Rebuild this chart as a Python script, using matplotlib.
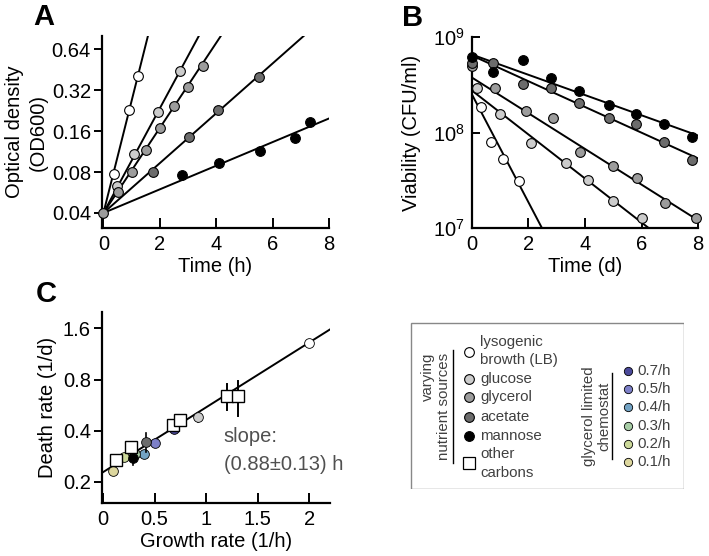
import numpy as np
import matplotlib
matplotlib.use("Agg")
import matplotlib.pyplot as plt
from matplotlib.patches import Rectangle

plt.rcParams['font.family'] = ['Liberation Sans', 'DejaVu Sans']
plt.rcParams['mathtext.fontset'] = 'custom'
plt.rcParams['mathtext.rm'] = 'Liberation Sans'

# ---- colours per condition
cond_names = ["LB", "glucose", "glycerol", "acetate", "mannose"]
cond_colors = ["white", "#cccccc", "#9c9c9c", "#6c6c6c", "black"]

# ---- Panel A: growth curves (OD600 vs time, h)
a_t = [
    [0.37, 0.9, 1.22],
    [0.49, 1.09, 1.94, 2.71],
    [0.53, 1.02, 1.51, 2.0, 2.5, 2.99, 3.52],
    [1.76, 3.03, 4.05, 5.53],
    [2.8, 4.1, 5.55, 6.8, 7.33],
]
a_od = [
    [0.077, 0.23, 0.41],
    [0.063, 0.108, 0.22, 0.44],
    [0.057, 0.08, 0.116, 0.168, 0.245, 0.34, 0.48],
    [0.08, 0.145, 0.23, 0.40],
    [0.076, 0.093, 0.114, 0.142, 0.186],
]
a_od0 = 0.04
a_rate = [1.9, 0.886, 0.72, 0.422, 0.20]   # fitted growth rates (1/h)

# ---- Panel B: viability (CFU/ml vs time, d)
b_t = [
    [0.32, 0.67, 1.1, 1.67],
    [0.17, 1.0, 2.1, 3.33, 4.1, 5.0, 6.03],
    [0.0, 0.8, 1.9, 2.88, 3.83, 5.0, 5.85, 6.84, 7.94],
    [0.0, 0.76, 1.8, 2.8, 3.8, 4.86, 5.82, 6.78, 7.8],
    [0.0, 0.76, 1.8, 2.8, 3.8, 4.86, 5.82, 6.78, 7.8],
]
b_cfu = [
    [1.87e8, 8.05e7, 5.3e7, 3.07e7],
    [2.96e8, 1.58e8, 7.85e7, 4.85e7, 3.2e7, 1.94e7, 1.26e7],
    [5.0e8, 2.96e8, 1.7e8, 1.43e8, 6.3e7, 4.5e7, 3.37e7, 1.85e7, 1.26e7],
    [5.4e8, 5.3e8, 3.26e8, 2.96e8, 2.06e8, 1.43e8, 1.24e8, 8.05e7, 5.2e7],
    [6.25e8, 4.35e8, 5.7e8, 3.76e8, 2.75e8, 1.96e8, 1.58e8, 1.24e8, 8.9e7],
]
b_cfu0 = [2.5e8, 2.75e8, 3.76e8, 6.4e8, 6.55e8]
b_rate = [1.3, 0.53, 0.43, 0.31, 0.244]    # fitted death rates (1/d)

# ---- Panel C: death rate vs growth rate
c_circ_g = [2.0, 0.92, 0.69, 0.42, 0.29]
c_circ_d = [1.31, 0.48, 0.43, 0.345, 0.276]
c_circ_err = [0.0, 0.03, 0.0, 0.045, 0.025]
c_sq_g = [0.13, 0.27, 0.68, 0.75, 1.2, 1.31]
c_sq_d = [0.268, 0.32, 0.43, 0.46, 0.64, 0.64]
c_sq_err = [0.0, 0.0, 0.0, 0.0, 0.11, 0.15]
chemo_labels = ["0.7/h", "0.5/h", "0.4/h", "0.3/h", "0.2/h", "0.1/h"]
chemo_colors = ["#4b4a9a", "#7d80c8", "#73a3c4", "#a8cda6", "#ccd99a", "#ddd79e"]
chemo_g = [0.69, 0.5, 0.40, 0.31, 0.2, 0.1]
chemo_d = [0.41, 0.34, 0.29, 0.29, 0.28, 0.23]
c_fit_d0 = 0.228
c_fit_slope = 0.88

FS = 14.5
fig = plt.figure(figsize=(7.09, 5.56), dpi=100)


def style(ax, yticks_out=True):
    ax.spines['top'].set_visible(False)
    ax.spines['right'].set_visible(False)
    for s in ['left', 'bottom']:
        ax.spines[s].set_linewidth(1.6)
    ax.tick_params(axis='x', direction='in', length=7, width=1.4, pad=5, labelsize=FS)
    ax.tick_params(axis='y', direction='out' if yticks_out else 'in', length=6,
                   width=1.4, pad=2, labelsize=FS)
    ax.minorticks_off()


# Panel A
axA = fig.add_axes([0.1439, 0.5899, 0.3202, 0.3453])
tt = np.linspace(0, 8, 200)
for i in range(5):
    axA.plot(tt, a_od0 * np.exp(np.array(a_rate[i]) * tt), color='black', lw=1.4, zorder=2)
for i in range(5):
    axA.plot(a_t[i], a_od[i], 'o', ms=7, mfc=cond_colors[i], mec='black', mew=0.8, zorder=3)
axA.plot([0], [a_od0], 'o', ms=7, mfc='#9c9c9c', mec='black', mew=0.8, zorder=4, clip_on=False)
axA.set_yscale('log')
axA.set_ylim(0.031, 0.8)
axA.set_xlim(-0.05, 8)
axA.set_yticks([0.04, 0.08, 0.16, 0.32, 0.64])
axA.set_yticklabels(['0.04', '0.08', '0.16', '0.32', '0.64'])
axA.set_xticks([0, 2, 4, 6, 8])
style(axA)
axA.set_xlabel('Time (h)', fontsize=FS, labelpad=2)
axA.set_ylabel('Optical density\n(OD600)', fontsize=FS, labelpad=3, linespacing=1.3)

# Panel B
axB = fig.add_axes([0.6657, 0.5899, 0.3188, 0.3435])
for i in range(5):
    axB.plot(tt, b_cfu0[i] * np.exp(-np.array(b_rate[i]) * tt), color='black', lw=1.4, zorder=2)
for i in range(5):
    axB.plot(b_t[i], b_cfu[i], 'o', ms=7, mfc=cond_colors[i], mec='black', mew=0.8,
             zorder=3, clip_on=False)
axB.set_yscale('log')
axB.set_ylim(1e7, 1e9)
axB.set_xlim(0, 8)
axB.set_yticks([1e7, 1e8, 1e9])
axB.set_yticklabels(['$10^7$', '$10^8$', '$10^9$'])
axB.set_xticks([0, 2, 4, 6, 8])
style(axB, yticks_out=False)
axB.tick_params(axis='y', pad=5)
axB.set_xlabel('Time (d)', fontsize=FS, labelpad=2)
axB.set_ylabel('Viability (CFU/ml)', fontsize=FS, labelpad=9)

# Panel C
axC = fig.add_axes([0.1439, 0.0953, 0.3216, 0.3435])
gg = np.linspace(0, 2.2, 50)
axC.plot(gg, c_fit_d0 * np.exp(c_fit_slope * gg), color='black', lw=1.4, zorder=2)
for i in range(6):
    axC.plot(chemo_g[i], chemo_d[i], 'o', ms=7, mfc=chemo_colors[i], mec='black',
             mew=0.6, zorder=3)
for i in range(5):
    if c_circ_err[i] > 0:
        axC.plot([c_circ_g[i]] * 2, [c_circ_d[i] - c_circ_err[i], c_circ_d[i] + c_circ_err[i]],
                 color='black', lw=1.2, zorder=3)
    axC.plot(c_circ_g[i], c_circ_d[i], 'o', ms=7, mfc=cond_colors[i], mec='black',
             mew=0.6, zorder=4)
for i in range(6):
    if c_sq_err[i] > 0:
        axC.plot([c_sq_g[i]] * 2, [c_sq_d[i] - c_sq_err[i], c_sq_d[i] + c_sq_err[i]],
                 color='black', lw=1.4, zorder=4)
    axC.plot(c_sq_g[i], c_sq_d[i], 's', ms=8.5, mfc='white', mec='black', mew=1.0, zorder=5)
axC.set_yscale('log')
axC.set_ylim(0.15, 2.0)
axC.set_xlim(-0.01, 2.2)
axC.set_yticks([0.2, 0.4, 0.8, 1.6])
axC.set_yticklabels(['0.2', '0.4', '0.8', '1.6'])
axC.set_xticks([0, 0.5, 1, 1.5, 2])
axC.set_xticklabels(['0', '0.5', '1', '1.5', '2'])
style(axC)
axC.set_xlabel('Growth rate (1/h)', fontsize=FS, labelpad=2)
axC.set_ylabel('Death rate (1/d)', fontsize=FS, labelpad=4)
axC.text(1.17, 0.306, 'slope:\n(0.88\u00b10.13) h', fontsize=14.5, color='#505050',
         va='center', ha='left', linespacing=1.55)

# Panel letters
fig.text(44 / 709, 1 - 17 / 556, 'A', fontsize=21, fontweight='bold', ha='center', va='center')
fig.text(413 / 709, 1 - 18 / 556, 'B', fontsize=21, fontweight='bold', ha='center', va='center')
fig.text(46 / 709, 1 - 294 / 556, 'C', fontsize=21, fontweight='bold', ha='center', va='center')

# Legend box (pixel coordinates inside the box)
axL = fig.add_axes([410 / 709, 1 - 489 / 556, 274 / 709, 167 / 556])
axL.set_xlim(0, 274)
axL.set_ylim(167, 0)
axL.axis('off')
axL.add_patch(Rectangle((0.5, 0.5), 273, 166, fill=False, ec='#888888', lw=1.0))
LFS = 10.8
tc = '#404040'
axL.text(26, 84, 'varying\nnutrient sources', rotation=90, fontsize=LFS, color=tc,
         ha='center', va='center', multialignment='right', linespacing=1.15)
axL.plot([43, 43], [28, 141], color='black', lw=1.0)
leg_y = [30, 57, 75, 95, 114]
for i in range(5):
    axL.plot(59, leg_y[i], 'o', ms=7, mfc=cond_colors[i], mec='black', mew=0.8)
axL.plot(59, 141, 's', ms=8, mfc='white', mec='black', mew=0.9)
left_text = [('lysogenic', 20), ('browth (LB)', 38), ('glucose', 57), ('glycerol', 75),
             ('acetate', 95), ('mannose', 114), ('other', 132), ('carbons', 151)]
for s, y in left_text:
    axL.text(70, y, s, fontsize=LFS, color=tc, va='center', ha='left')

axL.text(187, 94, 'glycerol limited\nchemostat', rotation=90, fontsize=LFS, color=tc,
         ha='center', va='center', multialignment='center', linespacing=1.15)
axL.plot([202, 202], [51, 137], color='black', lw=1.0)
chemo_leg_y = [49, 67, 85, 104, 122, 140]
for i in range(6):
    axL.plot(218, chemo_leg_y[i], 'o', ms=6, mfc=chemo_colors[i], mec='black', mew=0.6)
    axL.text(227, chemo_leg_y[i], chemo_labels[i], fontsize=LFS, color=tc, va='center', ha='left')

fig.savefig('out.png', dpi=100)
